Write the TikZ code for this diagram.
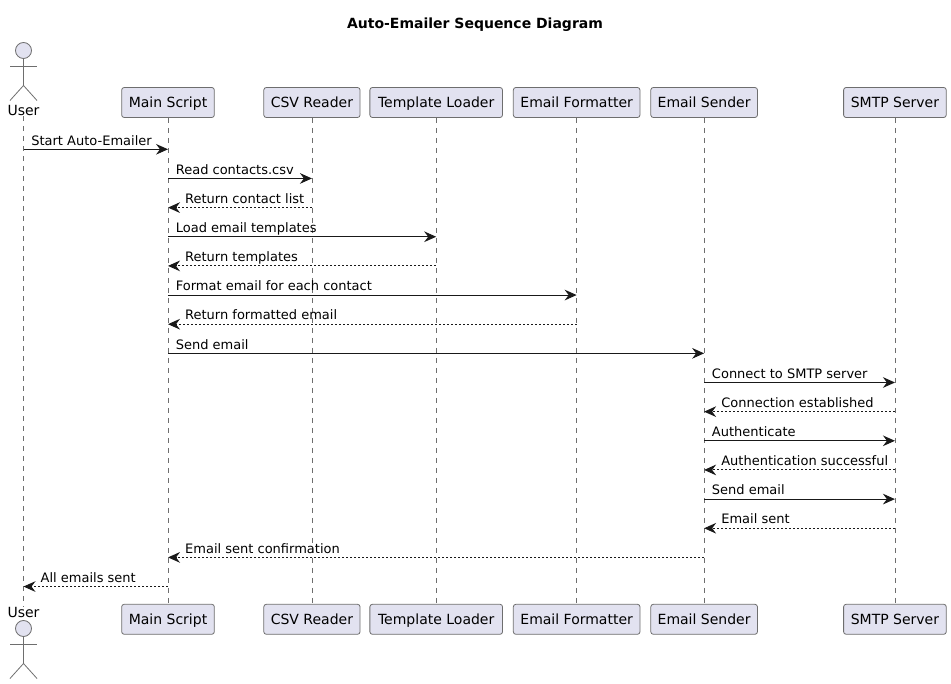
\documentclass[tikz,border=0pt]{standalone}
\usepackage{fontspec}
\setmainfont{DejaVu Sans}
\usepackage{xcolor}
\usetikzlibrary{arrows.meta, positioning}
\definecolor{boxfill}{HTML}{E2E2F0}
\definecolor{boxline}{HTML}{6E6E6E}

\begin{document}
\begin{tikzpicture}[x=0.75pt, y=-0.75pt, node distance=7.5pt,
        heading/.style={font=\fontsize{10.5}{12}\bfseries\selectfont, inner sep=0},
        block/.style={rectangle, draw=boxline, line width=0.6pt, fill=boxfill, rounded corners=1.9pt, font=\fontsize{10.5}{12}\selectfont, text height=9pt, text depth=1pt, inner ysep=0pt, inner xsep=4pt, minimum height=22.5pt},
        actor/.style={draw=boxline, line width=0.6pt},
        actorhead/.style={circle, draw=boxline, line width=0.6pt, fill=boxfill, minimum size=12pt, inner sep=0},
        actorname/.style={font=\fontsize{10.5}{12}\selectfont, inner sep=0, text height=8pt, text depth=0pt},
        lifeline/.style={draw=boxline, line width=0.5pt, dash pattern=on 3.75pt off 3.75pt},
        line/.style={draw=black!90, line width=0.75pt, -{Stealth[length=9pt, width=8pt, inset=3pt]}},
        reply/.style={line, dash pattern=on 1.5pt off 1.5pt},
        txt/.style={font=\fontsize{9.75}{12}\selectfont, inner sep=0, anchor=base west, yshift=3.2pt},
        go/.style={txt, pos=0, xshift=5.5pt},
        back/.style={txt, pos=1, xshift=12.5pt}]

        \useasboundingbox (0,0) rectangle (951,684);

        \node [heading] (diagramtitle) at (475,24.5) {Auto-Emailer Sequence Diagram};

        % Top row
        \node [block, minimum width=69.5pt] (main) at (168,102.5) {Main Script};
        \node [block, minimum width=72.2pt, right=36.5pt of main] (csv) {CSV Reader};
        \node [block, minimum width=99.5pt, right=6.75pt of csv] (template) {Template Loader};
        \node [block, minimum width=95pt, right=of template] (formatter) {Email Formatter};
        \node [block, minimum width=80pt, right=of formatter] (sender) {Email Sender};
        \node [block, minimum width=77pt, right=64pt of sender] (smtp) {SMTP Server};

        % Bottom row
        \node [block, minimum width=69.5pt, below=364.5pt of main] (mainb) {Main Script};
        \node [block, minimum width=72.2pt, below=364.5pt of csv] (csvb) {CSV Reader};
        \node [block, minimum width=99.5pt, below=364.5pt of template] (templateb) {Template Loader};
        \node [block, minimum width=95pt, below=364.5pt of formatter] (formatterb) {Email Formatter};
        \node [block, minimum width=80pt, below=364.5pt of sender] (senderb) {Email Sender};
        \node [block, minimum width=77pt, below=364.5pt of smtp] (smtpb) {SMTP Server};

        % Actors
        \node [actorhead] (userhead) at (23.5,50.5) {};
        \coordinate (userhip) at (23.5,85.5);
        \coordinate (userlarm) at (10,66);
        \coordinate (userrarm) at (37,66);
        \coordinate (userlleg) at (10,100.5);
        \coordinate (userrleg) at (37,100.5);
        \node [actorname] (user) at (23.5,110.5) {User};
        \draw [actor] (userhead) -- (userhip);
        \draw [actor] (userlarm) -- (userrarm);
        \draw [actor] (userlleg) -- (userhip) -- (userrleg);

        \node [actorname] (userb) at (23.5,612) {User};
        \node [actorhead] (userbhead) at (23.5,628.5) {};
        \coordinate (userbhip) at (23.5,663.5);
        \coordinate (userblarm) at (10,644);
        \coordinate (userbrarm) at (37,644);
        \coordinate (userblleg) at (10,678.5);
        \coordinate (userbrleg) at (37,678.5);
        \draw [actor] (userbhead) -- (userbhip);
        \draw [actor] (userblarm) -- (userbrarm);
        \draw [actor] (userblleg) -- (userbhip) -- (userbrleg);

        % Lifelines
        \path [lifeline] (user.south) -- (userb.north);
        \path [lifeline] (main.south) -- (mainb.north);
        \path [lifeline] (csv.south) -- (csvb.north);
        \path [lifeline] (template.south) -- (templateb.north);
        \path [lifeline] (formatter.south) -- (formatterb.north);
        \path [lifeline] (sender.south) -- (senderb.north);
        \path [lifeline] (smtp.south) -- (smtpb.north);

        % Message rows
        \foreach \i in {1,...,16} {
            \coordinate (r\i) at (0,{149.3+(\i-1)*29.15});
        }

        % Edges
        \path [line] (user |- r1) -- node [go] (t1) {Start Auto-Emailer} (main |- r1);
        \path [line] (main |- r2) -- node [go] (t2) {Read contacts.csv} (csv |- r2);
        \path [reply] (csv |- r3) -- node [back] (t3) {Return contact list} (main |- r3);
        \path [line] (main |- r4) -- node [go] (t4) {Load email templates} (template |- r4);
        \path [reply] (template |- r5) -- node [back] (t5) {Return templates} (main |- r5);
        \path [line] (main |- r6) -- node [go] (t6) {Format email for each contact} (formatter |- r6);
        \path [reply] (formatter |- r7) -- node [back] (t7) {Return formatted email} (main |- r7);
        \path [line] (main |- r8) -- node [go] (t8) {Send email} (sender |- r8);
        \path [line] (sender |- r9) -- node [go] (t9) {Connect to SMTP server} (smtp |- r9);
        \path [reply] (smtp |- r10) -- node [back] (t10) {Connection established} (sender |- r10);
        \path [line] (sender |- r11) -- node [go] (t11) {Authenticate} (smtp |- r11);
        \path [reply] (smtp |- r12) -- node [back] (t12) {Authentication successful} (sender |- r12);
        \path [line] (sender |- r13) -- node [go] (t13) {Send email} (smtp |- r13);
        \path [reply] (smtp |- r14) -- node [back] (t14) {Email sent} (sender |- r14);
        \path [reply] (sender |- r15) -- node [back] (t15) {Email sent confirmation} (main |- r15);
        \path [reply] (main |- r16) -- node [back] (t16) {All emails sent} (user |- r16);

    \end{tikzpicture}
\end{document}
